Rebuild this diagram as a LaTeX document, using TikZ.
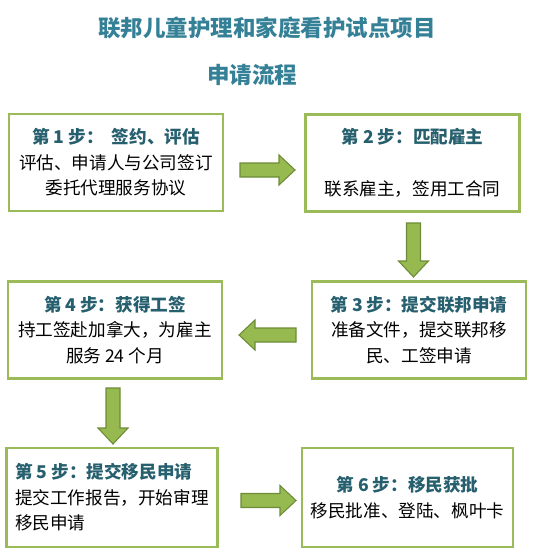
\documentclass[tikz,border=0pt]{standalone}
\usepackage{fontspec}
\usepackage{tikz}
\usepackage{xcolor}
\usetikzlibrary{calc}
\setmainfont{Noto Sans CJK SC}
\definecolor{BoxGreen}{RGB}{155,187,89}
\definecolor{ArrFill}{RGB}{150,185,80}
\definecolor{ArrLine}{RGB}{110,140,55}
\definecolor{TitleCol}{RGB}{52,128,150}
\definecolor{HeadCol}{RGB}{38,95,110}
\tikzset{
  fcbox/.style={rectangle, draw=BoxGreen, line width=2.8pt, fill=white,
    minimum width=214pt, minimum height=97pt, inner sep=0pt, align=center,
    font=\fontsize{17.6}{25.5}\selectfont},
  fclow/.style={fcbox, minimum width=211pt, minimum height=99pt},
  fctitle/.style={font=\fontsize{22.5}{24}\selectfont\bfseries, text=TitleCol, inner sep=0pt},
  fcarrow/.style={fill=ArrFill, draw=ArrLine, line width=1.1pt, line join=miter}
}
\newcommand{\FCHead}[1]{{\bfseries\color{HeadCol}#1}}
% block arrow from #1 to #2 (named coordinates)
\newcommand{\FCArrow}[2]{%
  \coordinate (h) at ($(#2)!16pt!(#1)$);
  \draw[fcarrow] ($(#1)!7pt!90:(#2)$) -- ($(h)!7pt!-90:(#1)$) --
    ($(h)!15pt!-90:(#1)$) -- (#2) -- ($(h)!15pt!90:(#1)$) --
    ($(h)!7pt!90:(#1)$) -- ($(#1)!7pt!-90:(#2)$) -- cycle;
}

\begin{document}
\begin{tikzpicture}[x=1pt,y=-1pt]
  \useasboundingbox (0,0) rectangle (537,555);
  % title
  \node[fctitle] (t1) at (267,28) {联邦儿童护理和家庭看护试点项目};
  \node[fctitle] (t2) at (252,75) {申请流程};
  % steps
  \node[fcbox] (s1) at (116,162.5)
    {\FCHead{第 1 步：\ \ 签约、评估}\\评估、申请人与公司签订\\委托代理服务协议};
  \node[fcbox] (s2) at (412.5,163)
    {\FCHead{第 2 步：匹配雇主}\\[27pt]联系雇主，签用工合同};
  \node[fcbox] (s3) at (419,330)
    {\FCHead{第 3 步：提交联邦申请}\\准备文件，提交联邦移\\民、工签申请};
  \node[fcbox] (s4) at (115,330)
    {\FCHead{第 4 步：获得工签}\\持工签赴加拿大，为雇主\\服务 24 个月};
  \node[fclow, align=left] (s5) at (112,497.5)
    {\FCHead{第 5 步：提交移民申请}\\提交工作报告，开始审理\\移民申请};
  \node[fclow] (s6) at (407.5,497.5)
    {\FCHead{第 6 步：移民获批}\\移民批准、登陆、枫叶卡};
  % arrows between steps
  \coordinate (a1s) at (240,170);   \coordinate (a1e) at (295,170);
  \coordinate (a2s) at (413.5,223); \coordinate (a2e) at (413.5,277);
  \coordinate (a3s) at (296,335);   \coordinate (a3e) at (239,335);
  \coordinate (a4s) at (113,388);   \coordinate (a4e) at (113,444);
  \coordinate (a5s) at (241,500.5); \coordinate (a5e) at (296,500.5);
  \FCArrow{a1s}{a1e}
  \FCArrow{a2s}{a2e}
  \FCArrow{a3s}{a3e}
  \FCArrow{a4s}{a4e}
  \FCArrow{a5s}{a5e}
\end{tikzpicture}
\end{document}
